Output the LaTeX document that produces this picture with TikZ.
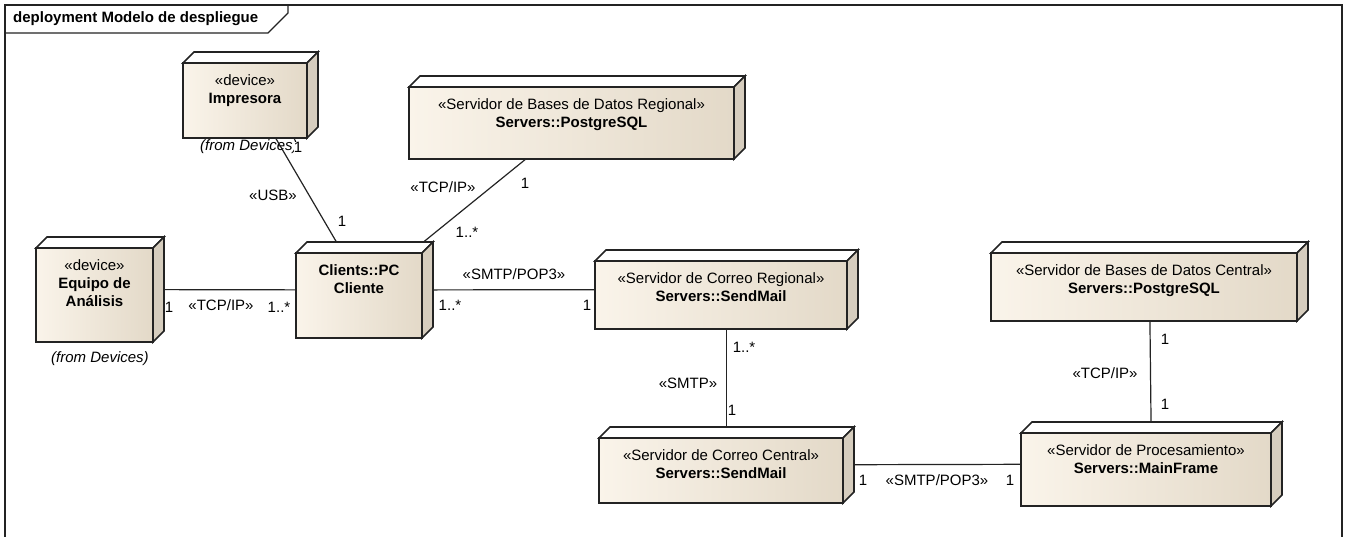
\documentclass[tikz,border=0pt]{standalone}
\usepackage{fontspec}
\setmainfont{Liberation Sans}
\usetikzlibrary{backgrounds}
\definecolor{cajaclara}{RGB}{250,244,234}
\definecolor{cajaoscura}{RGB}{227,217,200}
\definecolor{cajalado}{RGB}{214,205,190}
\definecolor{marco}{RGB}{35,35,35}

\newcommand{\letra}{\fontsize{15}{18}\selectfont}
\newcommand{\prof}{11}
% nodo 3D: nombre, x1, y1, x2, y2 (cara frontal), texto
\newcommand{\nodo}[6]{%
  \pgfmathsetmacro{\ancho}{#4-#2}%
  \pgfmathsetmacro{\altot}{#5-#3+\prof}%
  \node[caja, minimum width=\ancho pt+\prof pt, minimum height=\altot pt] (#1) at ({(#2+#4+\prof)/2},{(#3+#5-\prof)/2})
    {\parbox[t][\altot pt][t]{\ancho pt}{\centering\vspace*{23pt}#6}\hspace*{\prof pt}};}

\begin{document}
\begin{tikzpicture}[x=1pt, y=-1pt, every node/.style={font=\letra},
    caja/.style={inner sep=0pt, outer sep=0pt},
    cara/.style={draw=marco, line width=1.6pt, line join=miter},
    enlace/.style={draw=marco, line width=1.2pt},
    mult/.style={inner sep=0.5pt},
    desde/.style={font=\letra\itshape, inner sep=0pt}]
  \useasboundingbox (0,0) rectangle (1346,537);
  % marco del diagrama
  \draw[marco, line width=1.5pt] (5,540) -- (5,5) -- (1342,5) -- (1342,540);
  \draw[marco, line width=1.2pt] (5,33) -- (268,33) -- (288,13) -- (288,5);
  \node[font=\letra\bfseries, inner sep=0pt, anchor=west] (titulo) at (13,19) {deployment Modelo de despliegue};

  % nodos
  \nodo{imp}{183}{63}{307}{138}{«device»\\\textbf{Impresora}}
  \nodo{equipo}{36}{248}{153}{342}{«device»\\\textbf{Equipo de}\\\textbf{Análisis}}
  \nodo{pc}{296}{253}{422}{338}{\textbf{Clients::PC}\\\textbf{Cliente}}
  \nodo{bdreg}{409}{87}{734}{159}{«Servidor de Bases de Datos Regional»\\\textbf{Servers::PostgreSQL}}
  \nodo{creg}{595}{261}{847}{329}{«Servidor de Correo Regional»\\\textbf{Servers::SendMail}}
  \nodo{ccen}{599}{438}{843}{503}{«Servidor de Correo Central»\\\textbf{Servers::SendMail}}
  \nodo{bdcen}{991}{253}{1297}{321}{«Servidor de Bases de Datos Central»\\\textbf{Servers::PostgreSQL}}
  \nodo{proc}{1021}{433}{1271}{506}{«Servidor de Procesamiento»\\\textbf{Servers::MainFrame}}

  \begin{scope}[on background layer]
    \foreach \n in {imp,equipo,pc,bdreg,creg,ccen,bdcen,proc}{
      \filldraw[cara, fill=white] ([yshift=-\prof pt]\n.north west) -- ([xshift=\prof pt]\n.north west)
        -- (\n.north east) -- ([xshift=-\prof pt,yshift=-\prof pt]\n.north east) -- cycle;
      \filldraw[cara, fill=cajalado] ([xshift=-\prof pt,yshift=-\prof pt]\n.north east) -- (\n.north east)
        -- ([yshift=\prof pt]\n.south east) -- ([xshift=-\prof pt]\n.south east) -- cycle;
      \shadedraw[cara, left color=cajaclara, right color=cajaoscura] (\n.south west) rectangle ([xshift=-\prof pt,yshift=-\prof pt]\n.north east);
    }
  \end{scope}

  \node[desde] (desdeimp) at (249,147) {(from Devices)};
  \node[desde] (desdeeq) at (100,359) {(from Devices)};

  % conexiones
  \draw[enlace] (imp) -- (pc);
  \draw[enlace] (bdreg) -- (pc);
  \draw[enlace] (equipo) -- (pc);
  \draw[enlace] (pc) -- (creg);
  \draw[enlace] (creg) -- (ccen);
  \draw[enlace] (ccen) -- (proc);
  \draw[enlace] (bdcen) -- (proc);

  % etiquetas
  \node[mult, inner sep=0pt, fill=white] (m1) at (298,147) {1};
  \node (usb) at (273,195) {«USB»};
  \node[mult] (m2) at (342,221) {1};
  \node (tcp1) at (443,187) {«TCP/IP»};
  \node[mult] (m3) at (525,183) {1};
  \node[mult] (m4) at (467,232) {1..*};
  \node[mult] (m5) at (169,307) {1};
  \node (tcp2) at (221,305) {«TCP/IP»};
  \node[mult] (m6) at (279,307) {1..*};
  \node (smtppop1) at (514,274) {«SMTP/POP3»};
  \node[mult] (m7) at (450,305) {1..*};
  \node[mult] (m8) at (587,305) {1};
  \node[mult] (m9) at (744,347) {1..*};
  \node (smtp) at (688,383) {«SMTP»};
  \node[mult] (m10) at (732,410) {1};
  \node[mult] (m11) at (863,480) {1};
  \node (smtppop2) at (937,480) {«SMTP/POP3»};
  \node[mult] (m12) at (1010,480) {1};
  \node[mult] (m13) at (1165,339) {1};
  \node (tcp3) at (1105,373) {«TCP/IP»};
  \node[mult] (m14) at (1165,404) {1};
\end{tikzpicture}
\end{document}
